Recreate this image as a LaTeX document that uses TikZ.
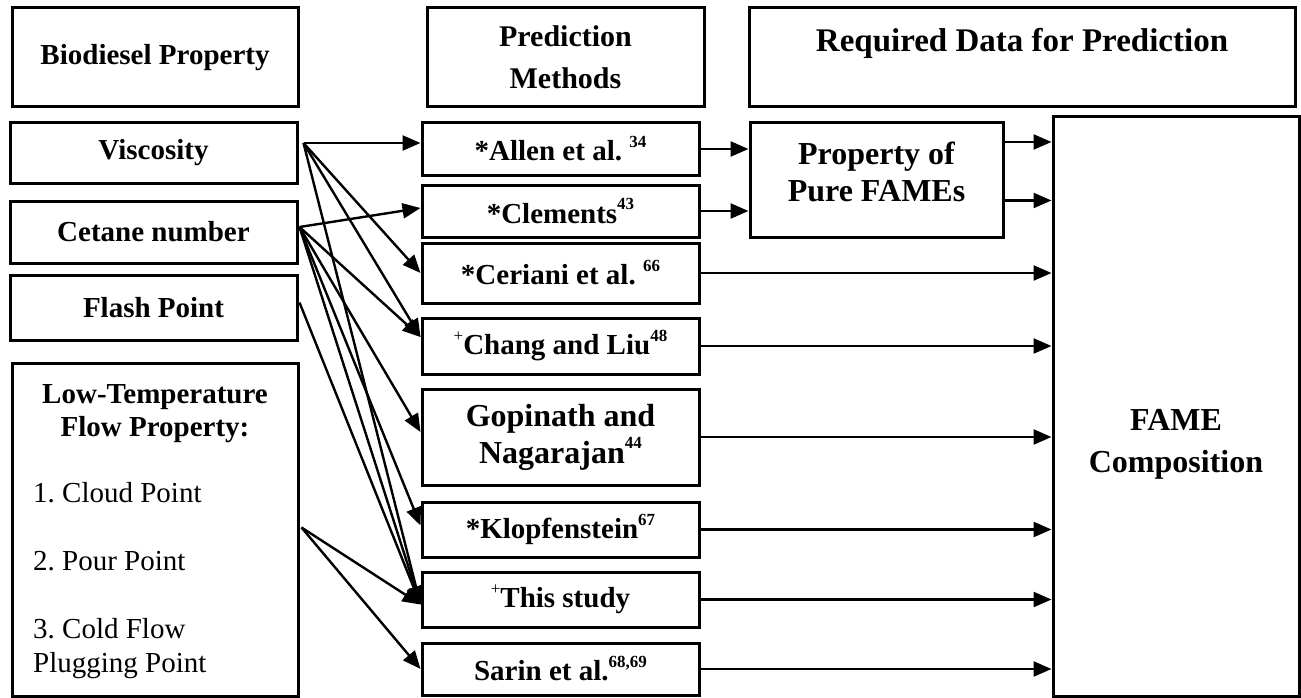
\documentclass[tikz,border=0pt]{standalone}
\usepackage{fontspec}
\setmainfont{Liberation Serif}
\usetikzlibrary{arrows.meta,calc}
\frenchspacing
\newcommand\fsA{\fontsize{29}{37}\selectfont\bfseries}
\newcommand\fsP{\fontsize{30}{42}\selectfont\bfseries}
\newcommand\fsB{\fontsize{32}{37}\selectfont\bfseries}
\newcommand\fsF{\fontsize{32}{42}\selectfont\bfseries}
\newcommand\fsH{\fontsize{33}{40}\selectfont\bfseries}
\newcommand\fsR{\fontsize{29}{34}\selectfont}
\newcommand\ssup[1]{\raisebox{0.45em}{\fontsize{17}{17}\selectfont #1}}
\begin{document}
\begin{tikzpicture}[x=1pt,y=-1pt,
  bx/.style={draw, line width=3pt, inner sep=0pt, align=center},
  mbox/.style={bx, minimum width=277, font=\fsA},
  lbox/.style={bx, minimum width=287, font=\fsA},
  conn/.style={line width=2.4pt, -{Triangle[length=18pt,width=15pt]}},
  ltxt/.style={font=\fsR, anchor=base west, inner sep=0pt}]
\useasboundingbox (0,0) rectangle (1301,698);

% headers
\node[bx, minimum width=286, minimum height=99, font=\fsA] (h1) at (155,57.5) {Biodiesel Property};
\node[bx, minimum width=277, minimum height=99, font=\fsP] (h2) at (565.5,57.5) {Prediction\\Methods};
\node[bx, minimum width=546, minimum height=99] (h3) at (1022,57.5) {};
\node[font=\fsH] (h3t) at (1022,43) {Required Data for Prediction};

% left column
\node[lbox, minimum height=60] (visc) at (153.5,153) {Viscosity};
\node[lbox, minimum height=62] (cet) at (153.5,232) {Cetane number};
\node[lbox, minimum height=65] (flash) at (153.5,307.5) {Flash Point};
\node[bx, minimum width=286, minimum height=333] (low) at (155,529.5) {};
\node[font=\fsA, anchor=base] (lt1) at (155,403) {Low-Temperature};
\node[font=\fsA, anchor=base] (lt2) at (155,436) {Flow Property:};
\node[ltxt] (lt3) at (33,502) {1. Cloud Point};
\node[ltxt] (lt4) at (33,570) {2. Pour Point};
\node[ltxt] (lt5) at (33,638) {3. Cold Flow};
\node[ltxt] (lt6) at (33,672) {Plugging Point};

% middle column
\node[mbox, minimum height=52] (allen) at (560.5,149) {*Allen et al. \ssup{34}};
\node[mbox, minimum height=52] (clem) at (560.5,211) {*Clements\ssup{43}};
\node[mbox, minimum height=60] (ceri) at (560.5,273) {*Ceriani et al. \ssup{66}};
\node[mbox, minimum height=56] (chang) at (560.5,346) {\ssup{\mdseries +}Chang and Liu\ssup{48}};
\node[mbox, minimum height=96, font=\fsB] (gopi) at (560.5,437) {Gopinath and\\Nagarajan\ssup{44}};
\node[mbox, minimum height=55] (klop) at (560.5,529.5) {*Klopfenstein\ssup{67}};
\node[mbox, minimum height=55] (this) at (560.5,599.5) {\ssup{\mdseries +}This study};
\node[mbox, minimum height=52] (sarin) at (560.5,669) {Sarin et al.\ssup{68,69}};

% right column
\node[bx, minimum width=253, minimum height=114] (pure) at (876.5,180) {};
\node[font=\fsB, align=center] (puret) at (876.5,172) {Property of\\Pure FAMEs};
\node[bx, minimum width=246, minimum height=579] (fame) at (1176,406.5) {};
\node[font=\fsF, align=center] (famet) at (1176,444) {FAME\\Composition};

% source points on the left
\coordinate (vs) at ($(visc.east)+(5,-10)$);
\coordinate (cs) at ($(cet.east)+(1,-5)$);
\coordinate (fs) at ($(flash.east)+(1,-5)$);
\coordinate (ls) at ($(low.east)+(2,-2)$);
\coordinate (chT) at ($(chang.west)+(0,-9)$);
\coordinate (thT) at ($(this.west)+(0,5)$);

% left connectors
\draw[conn] (vs) -- (vs -| allen.west);
\draw[conn] (vs) -- (ceri.west);
\draw[conn] (vs) -- (chT);
\draw[conn] (vs) -- (thT);
\draw[conn] (cs) -- ($(clem.west)+(0,-3)$);
\draw[conn] (cs) -- (chT);
\draw[conn] (cs) -- ($(gopi.west)+(0,-5)$);
\draw[conn] (cs) -- ($(klop.west)+(0,-4)$);
\draw[conn] (cs) -- (thT);
\draw[conn] (fs) -- (thT);
\draw[conn] (ls) -- (thT);
\draw[conn] (ls) -- (sarin.west);

% right connectors
\draw[conn] (allen.east) -- (allen.east -| pure.west);
\draw[conn] (clem.east) -- (clem.east -| pure.west);
\coordinate (p1) at ($(pure.north east)!0.175!(pure.south east)$);
\coordinate (p2) at ($(pure.north east)!0.675!(pure.south east)$);
\draw[conn] (p1) -- (p1 -| fame.west);
\draw[conn] (p2) -- (p2 -| fame.west);
\foreach \n in {ceri,chang,gopi,klop,this,sarin}
  \draw[conn] (\n.east) -- (\n.east -| fame.west);
\end{tikzpicture}
\end{document}
